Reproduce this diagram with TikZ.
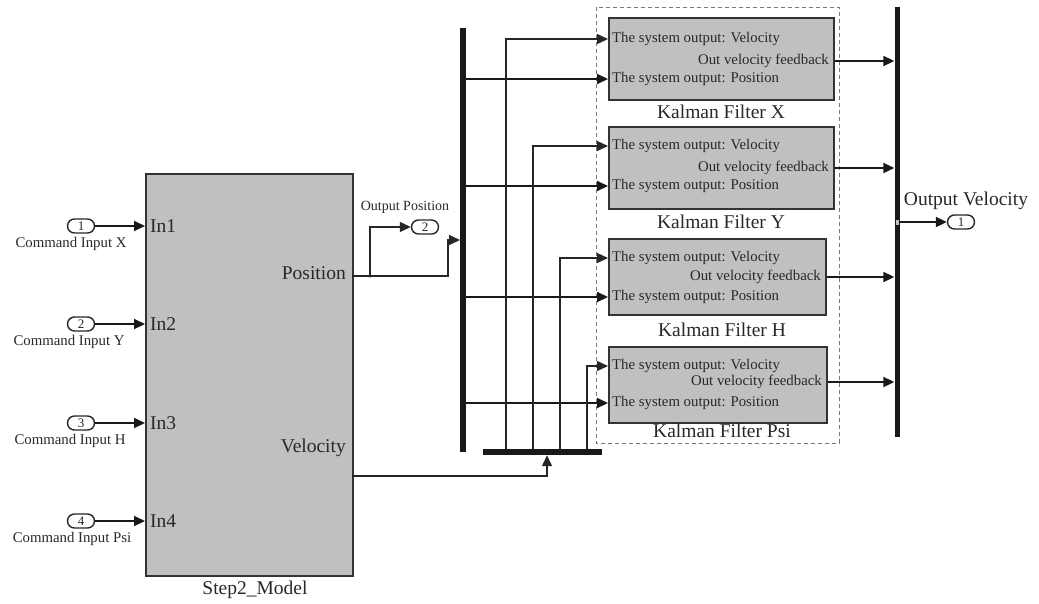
\documentclass[tikz,border=0pt]{standalone}
\usepackage{fontspec}
\setmainfont{Liberation Serif}
\usetikzlibrary{arrows.meta}
\definecolor{blkgrey}{RGB}{192,192,192}
\definecolor{txtgrey}{RGB}{40,40,40}
\definecolor{dashgrey}{RGB}{120,120,120}
\tikzset{
  blk/.style={draw=black!80, line width=1.6pt, fill=blkgrey, inner sep=0pt, anchor=north west},
  bigtxt/.style={font=\fontsize{19.5}{20}\selectfont, text=txtgrey, inner sep=0pt},
  smalltxt/.style={font=\fontsize{14.8}{16}\selectfont, text=txtgrey, inner sep=0pt},
  port/.style={draw=black!85, line width=1.4pt, rounded corners=7pt, minimum width=27pt, minimum height=14pt, inner sep=0pt, font=\fontsize{13}{13}\selectfont, text=txtgrey},
  sigthick/.style={line width=2pt, draw=black!90, -{Triangle[length=11pt,width=10pt]}},
  sigthin/.style={line width=1.3pt, draw=black!85, -{Triangle[length=11pt,width=10pt]}},
  wire/.style={line width=1.3pt, draw=black!85},
  barv/.style={fill=black!90, draw=none, inner sep=0pt},
}
\begin{document}
\begin{tikzpicture}[x=1pt,y=-1pt]
\useasboundingbox (0,0) rectangle (1039,603);

% ---------- model block ----------
\node[blk, minimum width=207pt, minimum height=402pt] (model) at (145,173) {};
\node[bigtxt] (mname) at (255,590) {Step2\_Model};
\node[bigtxt, anchor=west] (in1) at (150,226) {In1};
\node[bigtxt, anchor=west] (in2) at (150,324) {In2};
\node[bigtxt, anchor=west] (in3) at (150,423) {In3};
\node[bigtxt, anchor=west] (in4) at (150,521) {In4};
\node[bigtxt, anchor=east] (posl) at (346,273) {Position};
\node[bigtxt, anchor=east] (vell) at (346,448) {Velocity};

% ---------- inports ----------
\node[port] (p1) at (81,226) {1};
\node[port] (p2) at (81,324) {2};
\node[port] (p3) at (81,423) {3};
\node[port] (p4) at (81,521) {4};
\node[smalltxt] (c1) at (71,244) {Command Input X};
\node[smalltxt] (c2) at (69,342) {Command Input Y};
\node[smalltxt] (c3) at (70,441) {Command Input H};
\node[smalltxt] (c4) at (72,539) {Command Input Psi};
\foreach \i in {1,2,3,4} \draw[sigthick] (p\i.east) -- (p\i.east -| model.west);

% ---------- demuxes / buses ----------
\node[barv, minimum width=6pt, minimum height=424pt] (dmx) at (463,240) {};
\node[barv, minimum width=119pt, minimum height=6pt] (dmv) at (542.5,452) {};
\node[barv, minimum width=5pt, minimum height=430pt] (obus) at (897,222) {};
\node[fill=black!25, draw=none, minimum width=3pt, minimum height=5pt, inner sep=0pt] (omark) at (897,222) {};

% ---------- position path ----------
\coordinate (mpos) at (352,276);
\coordinate (brp) at (370,276);
\node[port] (op2) at (425,227) {2};
\node[smalltxt, font=\fontsize{14}{14}\selectfont] (opl) at (405,207) {Output Position};
\draw[wire] (mpos) -- (brp);
\draw[sigthin] (brp) |- (op2.west);
\fill[black!85] (brp) circle (1.6pt);
\coordinate (dmxin) at (460,240);
\draw[sigthin] (brp) -- (448,276) |- (dmxin);

% ---------- velocity path ----------
\coordinate (mvel) at (352,476);
\draw[sigthin] (mvel) -| (dmv.south -| 547,0);

% ---------- dashed group ----------
\draw[dashgrey, line width=0.9pt, dash pattern=on 4pt off 3pt] (596,7) rectangle (839,443);

% ---------- Kalman filters ----------
\node[blk, minimum width=225pt, minimum height=82pt] (kfx) at (608,17) {};
\node[blk, minimum width=225pt, minimum height=82pt] (kfy) at (608,126) {};
\node[blk, minimum width=217pt, minimum height=76pt] (kfh) at (608,238) {};
\node[blk, minimum width=218pt, minimum height=76pt] (kfp) at (608,346) {};

\node[bigtxt] (lx) at (721,112) {Kalman Filter X};
\node[bigtxt] (ly) at (721,222) {Kalman Filter Y};
\node[bigtxt] (lh) at (722,330) {Kalman Filter H};
\node[bigtxt] (lp) at (722,431) {Kalman Filter Psi};

% texts in filters
\node[smalltxt, anchor=west] (xv) at (612,39) {The system output: Velocity};
\node[smalltxt, anchor=east] (xo) at (829,61) {Out velocity feedback};
\node[smalltxt, anchor=west] (xp) at (612,79) {The system output: Position};
\node[smalltxt, anchor=west] (yv) at (612,146) {The system output: Velocity};
\node[smalltxt, anchor=east] (yo) at (829,168) {Out velocity feedback};
\node[smalltxt, anchor=west] (yp) at (612,186) {The system output: Position};
\node[smalltxt, anchor=west] (hv) at (612,258) {The system output: Velocity};
\node[smalltxt, anchor=east] (ho) at (821,277) {Out velocity feedback};
\node[smalltxt, anchor=west] (hp) at (612,297) {The system output: Position};
\node[smalltxt, anchor=west] (pv) at (612,366) {The system output: Velocity};
\node[smalltxt, anchor=east] (po) at (822,382) {Out velocity feedback};
\node[smalltxt, anchor=west] (pp) at (612,403) {The system output: Position};

% position inputs from demux
\draw[sigthick] (dmx.east |- 0,79) -- (kfx.west |- 0,79);
\draw[sigthick] (dmx.east |- 0,186) -- (kfy.west |- 0,186);
\draw[sigthick] (dmx.east |- 0,297) -- (kfh.west |- 0,297);
\draw[sigthick] (dmx.east |- 0,403) -- (kfp.west |- 0,403);

% velocity inputs from horizontal demux
\draw[sigthin] (dmv.north -| 506,0) |- (kfx.west |- 0,39);
\draw[sigthin] (dmv.north -| 533,0) |- (kfy.west |- 0,146);
\draw[sigthin] (dmv.north -| 560,0) |- (kfh.west |- 0,258);
\draw[sigthin] (dmv.north -| 587,0) |- (kfp.west |- 0,366);

% outputs to bus
\draw[sigthick] (kfx.east |- 0,61) -- (obus.west |- 0,61);
\draw[sigthick] (kfy.east |- 0,168) -- (obus.west |- 0,168);
\draw[sigthick] (kfh.east |- 0,277) -- (obus.west |- 0,277);
\draw[sigthick] (kfp.east |- 0,382) -- (obus.west |- 0,382);

% output velocity
\node[port] (op1) at (961,222) {1};
\node[bigtxt] (ovl) at (966,201) {Output Velocity};
\draw[sigthick] (obus.east) -- (op1.west);
\end{tikzpicture}
\end{document}
